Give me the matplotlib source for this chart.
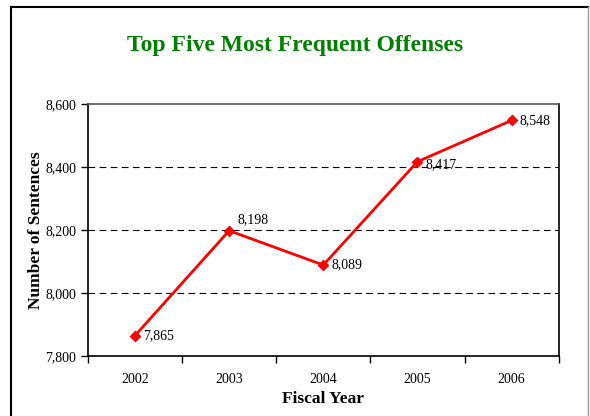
import matplotlib.pyplot as plt
from matplotlib.lines import Line2D

years = ['2002', '2003', '2004', '2005', '2006']
sentences = [7865, 8198, 8089, 8417, 8548]
yticks = [7800, 8000, 8200, 8400, 8600]
# label offsets (points) to mimic the original placement
offsets = [(6, 0), (6, 8), (6, 0), (6, -2), (6, 0)]

plt.rcParams['font.family'] = ['Liberation Serif', 'DejaVu Serif']

fig = plt.figure(figsize=(5.9, 4.16), dpi=100)
ax = fig.add_axes([0.149, 0.144, 0.798, 0.606])

x = list(range(len(years)))
ax.plot(x, sentences, color='#ff0000', lw=2, marker='D', ms=5, zorder=3)
for xi, v, off in zip(x, sentences, offsets):
    ax.annotate(f'{v:,}', (xi, v), xytext=off, textcoords='offset points',
                fontsize=10, va='center', ha='left', zorder=4)

ax.set_xlim(-0.5, 4.5)
ax.set_ylim(7800, 8600)
ax.set_yticks(yticks)
ax.set_yticklabels([f'{t:,}' for t in yticks])
ax.set_xticks(x)
ax.set_xticklabels(years)
ax.set_xticks([i + 0.5 for i in range(-1, len(years))], minor=True)
ax.tick_params(axis='x', which='major', length=0, pad=12, labelsize=10)
ax.tick_params(axis='x', which='minor', length=5, direction='out', width=1)
ax.tick_params(axis='y', length=5, direction='out', labelsize=10, width=1)
for t in [8000, 8200, 8400]:
    ax.axhline(t, color='black', lw=0.8, ls=(0, (6, 4)), zorder=1)
for s in ax.spines.values():
    s.set_linewidth(1.2)
ax.spines['top'].set_color('#555555')

ax.set_xlabel('Fiscal Year', fontsize=12.5, fontweight='bold', labelpad=4)
ax.set_ylabel('Number of Sentences', fontsize=12.5, fontweight='bold', labelpad=1)
fig.text(0.5, 0.89, 'Top Five Most Frequent Offenses', ha='center', va='center',
         fontsize=17, fontweight='bold', color='#008000')

# outer border
fig.add_artist(Line2D([11 / 590, 11 / 590], [0, 1 - 7 / 416], color='black', lw=1.5))
fig.add_artist(Line2D([11 / 590, 588 / 590], [1 - 7 / 416, 1 - 7 / 416], color='black', lw=1.5))
fig.add_artist(Line2D([588 / 590, 588 / 590], [0, 1 - 7 / 416], color='#999999', lw=1))

fig.savefig('out.png', dpi=100)
